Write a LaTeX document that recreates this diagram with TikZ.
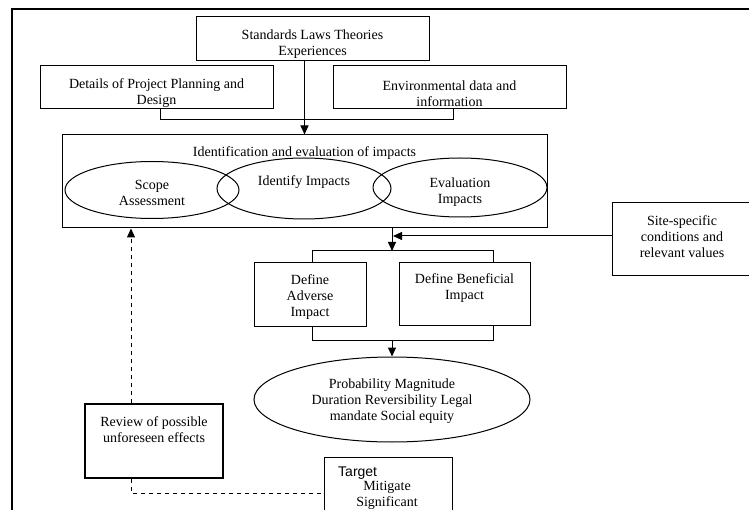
\documentclass[tikz,border=0pt]{standalone}
\usepackage{fontspec}
\setmainfont{Liberation Serif}
\newfontfamily\arialfont{Liberation Sans}
\usetikzlibrary{arrows.meta,shapes.geometric,calc}
\begin{document}
\begin{tikzpicture}[x=1pt,y=-1pt,
  txt/.style={align=center,inner sep=0pt,font=\fontsize{14}{16}\selectfont},
  box/.style={txt,draw,line width=1pt,rectangle},
  ell/.style={txt,draw,line width=1pt,ellipse},
  tip/.style={-{Triangle[width=8pt,length=9pt]}},
  arr/.style={line width=1pt,tip},
  ln/.style={line width=1pt},
  dsh/.style={line width=1pt,dash pattern=on 4.5pt off 3.5pt}]
\useasboundingbox (0,0) rectangle (749,510);
\clip (0,0) rectangle (749,510);
% outer frame
\draw[line width=2.5pt] (12,520) -- (12,9) -- (760,9);
% top boxes
\node[box,minimum width=233pt,minimum height=44pt,
  label={[txt,yshift=-5pt]center:{Standards Laws Theories\\Experiences}}] (std) at (312.5,39) {};
\node[box,minimum width=233pt,minimum height=43pt,
  label={[txt,yshift=-6pt]center:{Details of Project Planning and\\Design}}] (det) at (156.5,87.5) {};
\node[box,minimum width=233pt,minimum height=43pt,
  label={[txt,yshift=-6pt]center:{Environmental data and\\information}}] (env) at (449.5,87.5) {};
% big box
\node[box,minimum width=485pt,minimum height=93pt] (big) at (304.5,181.5) {};
\node[txt] (ttl) at (304.5,153) {Identification and evaluation of impacts};
\node[ell,minimum width=174pt,minimum height=57pt,
  label={[txt,yshift=-3pt]center:{Scope\\Assessment}}] (scope) at (152,190) {};
\node[ell,minimum width=174pt,minimum height=61pt] (ident) at (304,188.5) {};
\node[txt] (idtxt) at (304,182) {Identify Impacts};
\node[ell,minimum width=174pt,minimum height=59pt,
  label={[txt,yshift=-5pt]center:{Evaluation\\Impacts}}] (eval) at (460,187.5) {};
% site
\node[box,minimum width=140pt,minimum height=73pt,
  label={[txt,yshift=3pt]center:{Site-specific\\conditions and\\relevant values}}] (site) at (682,239.5) {};
% define boxes
\node[box,minimum width=112pt,minimum height=64pt,
  label={[txt,yshift=-2pt]center:{Define\\Adverse\\Impact}}] (adv) at (310,295) {};
\node[box,minimum width=131pt,minimum height=63pt,
  label={[txt,anchor=north,yshift=-11pt]north:{Define Beneficial\\Impact}}] (ben) at (464.5,294.5) {};
% probability
\node[ell,minimum width=276pt,minimum height=85pt,
  label={[txt,yshift=-2pt]center:{Probability Magnitude\\Duration Reversibility Legal\\mandate Social equity}}] (prob) at (392,399.5) {};
% review
\node[box,line width=1.7pt,minimum width=138pt,minimum height=74pt,
  label={[txt,anchor=north,yshift=-13pt]north:{Review of possible\\unforeseen effects}}] (rev) at (154,441) {};
% target
\node[box,minimum width=128pt,minimum height=73pt] (tgt) at (388,493.5) {};
\node[txt,anchor=west,font=\arialfont\fontsize{14}{16}\selectfont] (tgtA) at (338,473) {Target};
\node[txt] (tgtB) at (387,495.5) {Mitigate\\Significant};
% connectors
\draw[arr] (std.south -| big.north) -- (big.north);
\draw[ln] ([xshift=3.5pt]det.south) -- ++(0,10) -| ([xshift=3.5pt]env.south);
\coordinate (sp) at (392,251);
\coordinate (tl) at (312,251);
\coordinate (tr) at (493,251);
\draw[arr] (big.south -| sp) -- (sp);
\draw[ln] (adv.north -| tl) -- (tl) -- (tr) -- (ben.north -| tr);
\coordinate (sj) at (393,236);
\draw[arr] (site.west |- sj) -- (sj);
\coordinate (bl) at (312,340);
\coordinate (br) at (493,340);
\coordinate (bm) at (392,340);
\draw[ln] (adv.south -| bl) -- (bl) -- (br) -- (ben.south -| br);
\draw[arr] (bm) -- (prob.north);
\coordinate (dx) at (131,493);
\draw[dsh,tip] (rev.north -| dx) -- (big.south -| dx);
\draw[dsh] (rev.south -| dx) -- (dx) -- (tgt.west |- dx);
\end{tikzpicture}
\end{document}
